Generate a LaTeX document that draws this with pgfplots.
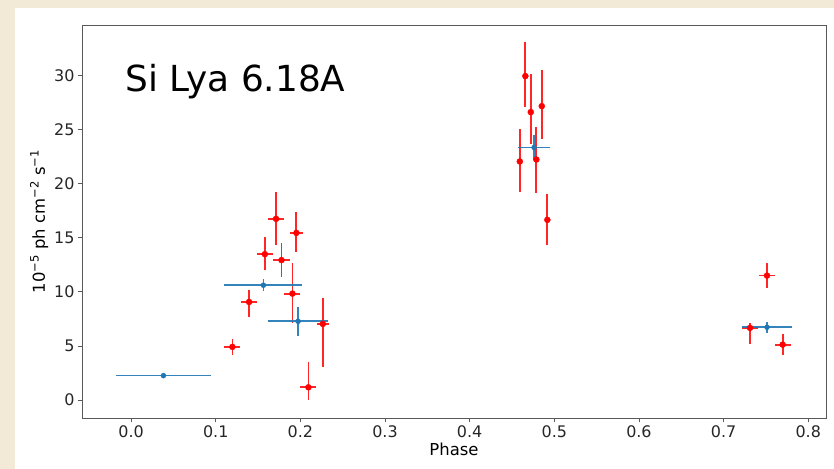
\documentclass[border=0pt]{standalone}
\usepackage{fontspec}
\setmainfont{DejaVu Sans}
\usepackage{pgfplots}
\usepackage{pgfplotstable}
\pgfplotsset{compat=1.18}
\definecolor{beige}{HTML}{F2EAD6}
\definecolor{mplblue}{HTML}{1F77B4}

\pgfplotstableread{
x y ex eyp eym
0.1197 4.91 0.0095 0.77 0.77
0.1394 9.07 0.0095 1.08 1.35
0.1580 13.49 0.0095 1.6 1.5
0.1713 16.76 0.0095 2.5 2.4
0.1777 12.94 0.0095 1.6 1.6
0.1906 9.84 0.0095 2.87 2.74
0.1953 15.46 0.008 1.92 1.73
0.2095 1.17 0.0095 2.35 1.15
0.2265 7.04 0.007 2.38 3.95
0.4592 22.07 0.002 3.0 2.83
0.4658 29.97 0.002 3.17 2.87
0.4722 26.64 0.002 3.55 2.93
0.4788 22.25 0.002 3.0 3.08
0.4852 27.19 0.002 3.36 3.03
0.4918 16.67 0.002 2.4 2.35
0.7312 6.67 0.0095 0.46 1.48
0.7513 11.51 0.0098 1.13 1.13
0.7698 5.12 0.0095 1.0 1.0
}\redtab

\pgfplotstableread{
x y ex ey
0.0382 2.25 0.056 0.1
0.1563 10.62 0.046 0.58
0.1973 7.28 0.035 1.34
0.4761 23.36 0.019 1.2
0.7513 6.73 0.029 0.5
}\bluetab

\begin{document}
\begin{tikzpicture}
\useasboundingbox (-82bp,-51bp) rectangle (752bp,418bp);
\fill[beige] (-82bp,-51bp) rectangle (752bp,418bp);
\fill[white] (-67bp,-51bp) rectangle (752bp,410bp);
\begin{axis}[
  scale only axis,
  width=744bp, height=393bp,
  at={(0,0)}, anchor=south west,
  xmin=-0.058, xmax=0.821,
  ymin=-1.67, ymax=34.7,
  xtick={0,0.1,...,0.8},
  ytick={0,5,...,30},
  xticklabel style={/pgf/number format/.cd, fixed, fixed zerofill, precision=1},
  /pgf/number format/assume math mode=true,
  tick label style={font=\fontsize{16}{18}\selectfont, color=black!85},
  label style={font=\fontsize{16.5}{18}\selectfont},
  xlabel={Phase},
  ylabel={10\textsuperscript{−5} ph cm\textsuperscript{−2} s\textsuperscript{−1}},
  xlabel style={yshift=1pt},
  ylabel style={yshift=-1pt},
  axis line style={black!65, line width=0.8pt},
  tick style={black!65, line width=0.8pt},
  tick align=outside,
  major tick length=4bp,
  xtick pos=bottom, ytick pos=left,
  clip=false,
]
\addplot[only marks, mark=*, mark size=3bp, color=red,
  error bars/.cd, x dir=both, x explicit, y dir=both, y explicit,
  error mark=none, error bar style={red, line width=1.8bp, opacity=0.85}]
  table[x=x, y=y, x error=ex, y error plus=eyp, y error minus=eym] {\redtab};
\addplot[only marks, mark=*, mark size=2.5bp, color=mplblue,
  error bars/.cd, x dir=both, x explicit, y dir=both, y explicit,
  error mark=none, error bar style={mplblue, line width=1.7bp, opacity=0.9}]
  table[x=x, y=y, x error=ex, y error=ey] {\bluetab};
\node[anchor=base west, font=\fontsize{36}{40}\selectfont] at (rel axis cs:0.054,0.83) {Si Lya 6.18A};
\end{axis}
\end{tikzpicture}
\end{document}
